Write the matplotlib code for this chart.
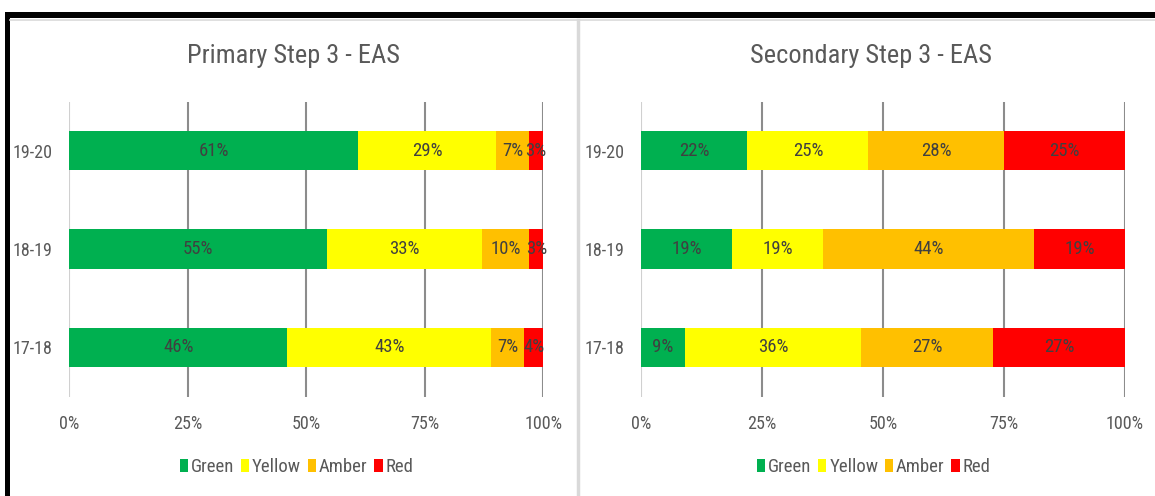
import matplotlib
matplotlib.use("Agg")
import matplotlib.pyplot as plt
from matplotlib.patches import Rectangle, Patch
from matplotlib.lines import Line2D
import numpy as np

plt.rcParams['font.family'] = ['Roboto Condensed', 'Archivo Narrow', 'Liberation Sans', 'DejaVu Sans']

years = ["17-18", "18-19", "19-20"]
series = ["Green", "Yellow", "Amber", "Red"]
colors = ["#00B050", "#FFFF00", "#FFC000", "#FF0000"]

primary_title = "Primary Step 3 - EAS"
primary = {
    "Green": [46, 55, 61],
    "Yellow": [43, 33, 29],
    "Amber": [7, 10, 7],
    "Red": [4, 3, 3],
}
secondary_title = "Secondary Step 3 - EAS"
secondary = {
    "Green": [9, 19, 22],
    "Yellow": [36, 19, 25],
    "Amber": [27, 44, 28],
    "Red": [27, 19, 25],
}
xticks = [0, 25, 50, 75, 100]
xticklabels = ["0%", "25%", "50%", "75%", "100%"]

W, H = 1155, 496
fig = plt.figure(figsize=(W / 100, H / 100), dpi=100)
fig.patch.set_facecolor("white")


def fx(x):
    return x / W


def fy(y):
    return 1 - y / H


# frame decorations
fig.add_artist(Rectangle((fx(5), fy(18)), fx(W - 5), 6 / H, transform=fig.transFigure,
                         facecolor="black", edgecolor="none", zorder=0))
fig.add_artist(Rectangle((fx(5), 0), 5 / W, fy(12), transform=fig.transFigure,
                         facecolor="black", edgecolor="none", zorder=0))
fig.add_artist(Line2D([fx(10), fx(W)], [fy(19.5), fy(19.5)], transform=fig.transFigure,
                      color="#d9d9d9", lw=1.2))
fig.add_artist(Line2D([fx(578), fx(578)], [0, fy(19.5)], transform=fig.transFigure,
                      color="#d9d9d9", lw=2.5))

text_col = "#404040"
tick_col = "#595959"


def panel(left, right, title, data, title_cx, legend_cx):
    top, bottom = 101.5, 396.5
    ax = fig.add_axes([fx(left), fy(bottom), fx(right - left), (bottom - top) / H])
    ypos = np.arange(len(years))
    vals = np.array([data[s] for s in series], dtype=float)
    totals = vals.sum(axis=0)
    pct = vals / totals * 100
    lefts = np.zeros(len(years))
    for i, s in enumerate(series):
        ax.barh(ypos, pct[i], left=lefts, height=0.4, color=colors[i], zorder=3)
        for j in range(len(years)):
            ax.text(lefts[j] + pct[i][j] / 2, ypos[j], f"{data[s][j]}%",
                    ha="center", va="center", fontsize=13.5, color=text_col, zorder=4)
        lefts += pct[i]
    ax.set_xlim(0, 100)
    ax.set_ylim(-0.5, 2.5)
    ax.set_xticks(xticks)
    ax.set_xticklabels(xticklabels)
    ax.set_yticks(ypos)
    ax.set_yticklabels(years)
    ax.tick_params(axis="both", length=0, labelsize=13, labelcolor=tick_col)
    ax.tick_params(axis="x", pad=13)
    ax.tick_params(axis="y", pad=12)
    for sp in ax.spines.values():
        sp.set_visible(False)
    for t in xticks[1:]:
        ax.axvline(t, color="#8c8c8c", lw=1.5, zorder=1)
    ax.axvline(0, color="#d0d0d0", lw=1.5, zorder=1)
    fig.text(fx(title_cx), fy(56), title, ha="center", va="center", fontsize=19, color=tick_col)
    handles = [Patch(facecolor=c, edgecolor="none", label=s) for s, c in zip(series, colors)]
    fig.legend(handles=handles, loc="center", bbox_to_anchor=(fx(legend_cx), fy(467)),
               ncol=4, frameon=False, fontsize=13.5, handlelength=0.45, handleheight=0.7,
               handletextpad=0.15, columnspacing=0.35, labelcolor=tick_col,
               borderpad=0, borderaxespad=0)
    return ax


panel(69.3, 543.3, primary_title, primary, 294, 296.5)
panel(641, 1125, secondary_title, secondary, 871, 873.5)

fig.savefig("out.png", dpi=100, facecolor="white")
